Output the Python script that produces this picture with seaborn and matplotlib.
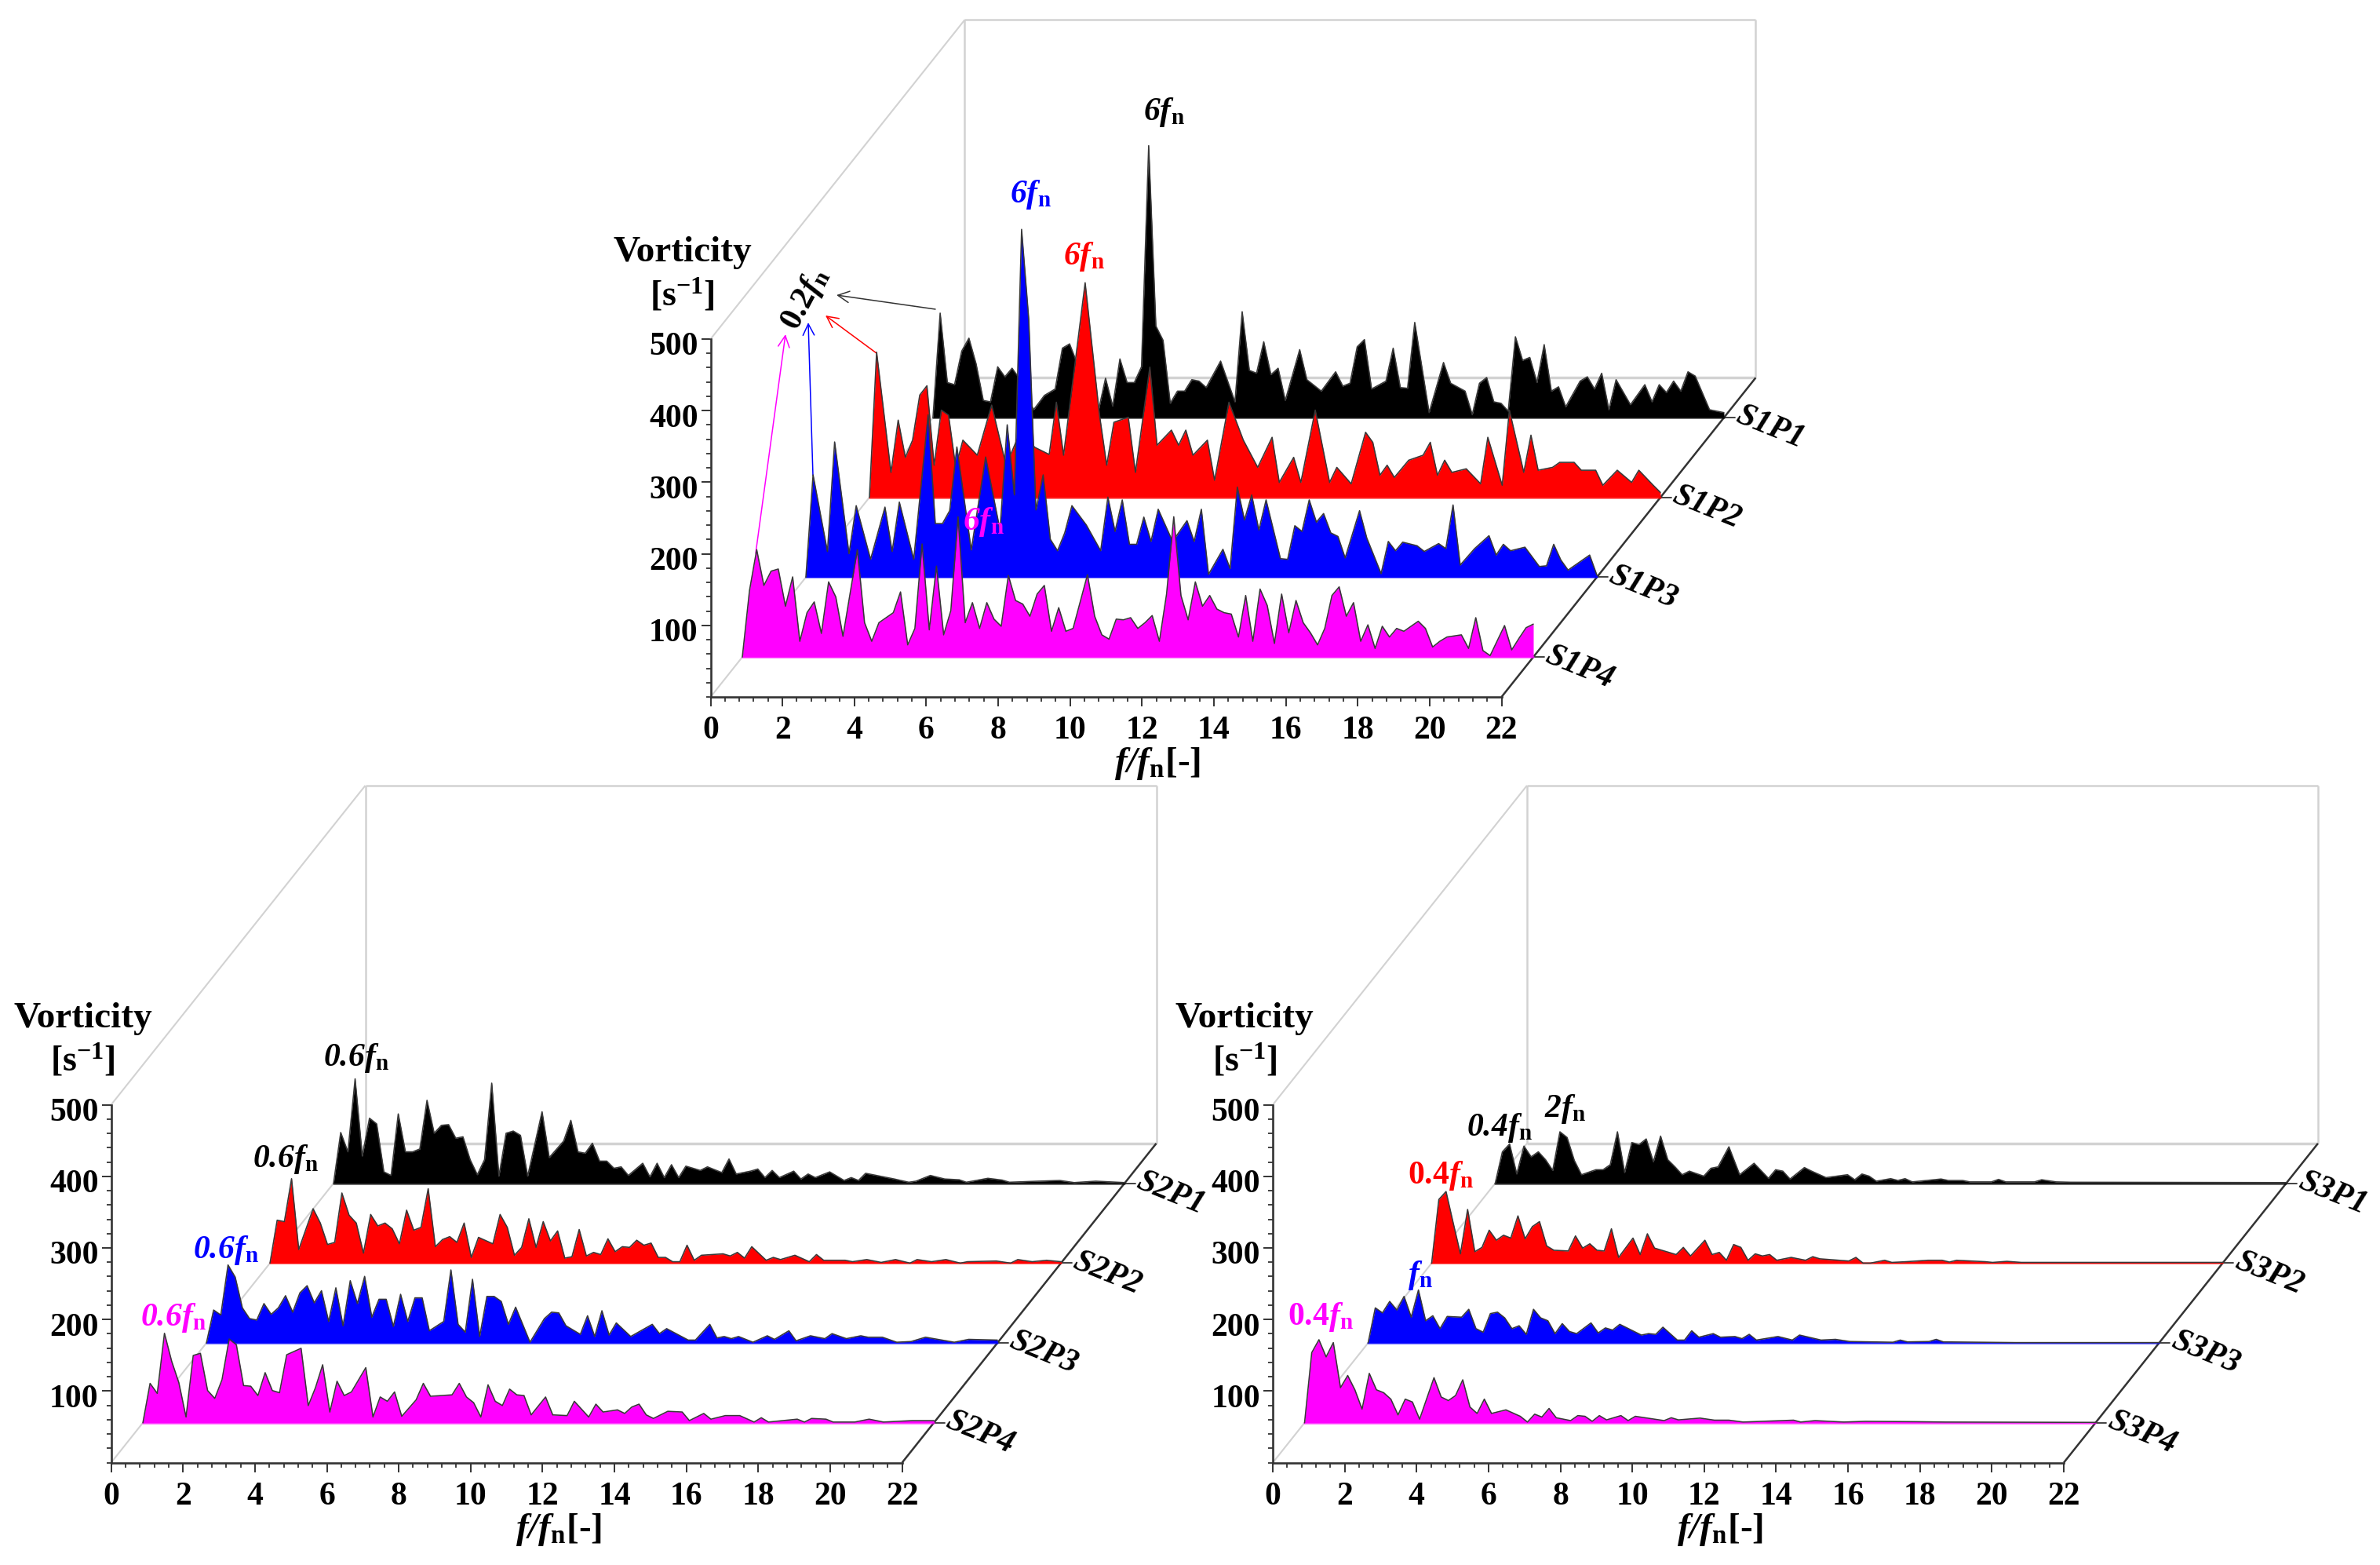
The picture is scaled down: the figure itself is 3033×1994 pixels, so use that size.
import matplotlib
matplotlib.use("Agg")
import matplotlib.pyplot as plt
import seaborn as sns
from matplotlib.transforms import Affine2D, ScaledTranslation
from matplotlib.ticker import MultipleLocator

# ---------- data ----------
S1P1_f = [0,.2,.4,.6,.8,1,1.2,1.4,1.6,1.8,2,2.2,2.4,2.8,3.1,3.4,3.6,3.8,4,4.6,4.8,5,5.2,5.4,5.6,5.8,6,6.2,6.4,6.6,6.8,7,7.2,7.4,7.6,8,8.4,8.6,8.8,9,9.2,9.4,9.6,9.8,10.2,10.4,10.8,11.2,11.4,11.6,11.8,12,12.2,12.6,12.8,13,13.2,13.4,13.8,14.2,14.4,14.8,15,15.2,15.4,15.6,15.8,16,16.2,16.4,16.6,16.8,17,17.2,17.4,17.6,18,18.2,18.4,18.6,18.8,19,19.4,19.8,20,20.2,20.4,20.6,20.8,21,21.2,21.6,21.8,22]
S1P1_v = [0,146,49,46,93,111,75,24,22,71,57,69,55,11,31,40,97,103,77,9,55,16,82,49,49,71,380,128,108,20,37,37,53,51,42,79,22,148,66,62,106,60,69,24,95,53,37,64,44,48,99,109,40,51,97,42,41,133,7,77,48,37,4,48,56,22,20,9,113,80,84,49,102,37,43,15,51,57,40,62,11,53,18,46,22,46,35,51,37,64,58,11,9,7]
S1P2_f = [0,.2,.6,.8,1,1.2,1.4,1.6,1.8,2,2.2,2.4,2.6,3,3.4,3.8,4.2,4.6,5,5.2,5.4,6,6.4,6.6,6.8,7.2,7.4,7.8,8,8.4,8.6,8.8,9,9.4,9.6,10,10.4,10.8,11.2,11.4,11.8,12,12.4,12.8,13,13.4,13.8,14,14.2,14.4,14.6,15,15.4,15.6,15.8,16,16.2,16.6,17,17.2,17.6,17.8,18.2,18.4,18.6,19,19.2,19.6,19.8,20.2,20.4,20.8,21.2,21.4,21.8,22]
S1P2_v = [0,203,35,108,56,80,143,156,45,122,115,42,80,59,129,45,92,70,60,133,59,300,115,45,105,112,35,182,73,94,73,94,59,80,24,133,80,42,84,21,56,21,122,21,42,19,91,77,31,45,28,52,59,77,31,52,35,40,19,84,17,122,35,87,38,42,49,49,38,38,17,38,21,38,17,7]
S1P3_f = [0,.2,.6,.8,1.2,1.4,1.8,2.2,2.4,2.6,3,3.4,3.6,3.8,4,4.2,4.6,5,5.4,5.6,5.8,6,6.2,6.4,6.6,6.8,7,7.2,7.4,7.8,8.2,8.4,8.6,8.8,9,9.2,9.4,9.6,9.8,10.2,10.6,10.8,11,11.2,11.6,11.8,12,12.2,12.4,12.6,12.8,13.2,13.4,13.6,13.8,14,14.2,14.4,14.6,14.8,15,15.4,15.6,16,16.2,16.4,16.6,17,17.2,17.6,17.8,18,18.2,18.6,19,19.2,19.4,19.6,20,20.4,20.6,20.8,21,21.2,21.8,22]
S1P3_v = [0,143,36,189,33,100,25,98,36,105,25,227,75,75,93,182,38,168,66,213,115,486,360,94,143,53,37,62,100,73,37,112,64,108,46,46,84,50,95,50,79,50,95,4,39,12,126,80,115,66,108,26,25,72,64,108,77,89,62,57,27,93,55,5,50,37,49,44,36,47,40,101,17,40,58,31,46,37,42,15,16,46,24,10,31,3]
S1P4_f = [0,.2,.4,.6,.8,1,1.2,1.4,1.6,1.8,2,2.2,2.4,2.6,2.8,3.2,3.4,3.6,3.8,4.2,4.4,4.6,4.8,5,5.2,5.4,5.6,5.8,6,6.2,6.4,6.6,6.8,7,7.2,7.4,7.6,7.8,8,8.2,8.4,8.6,8.8,9,9.2,9.6,9.8,10,10.2,10.4,10.6,10.8,11,11.2,11.4,11.6,11.8,12,12.2,12.4,12.6,12.8,13,13.2,13.4,13.6,13.8,14,14.2,14.4,14.6,14.8,15,15.2,15.4,15.6,15.8,16,16.2,16.4,16.6,16.8,17,17.2,17.4,17.6,17.8,18,18.2,18.4,18.8,19,19.2,19.4,19.6,20,20.2,20.4,20.6,20.8,21.2,21.4,21.6,21.8,22]
S1P4_v = [0,93,150,100,120,123,71,112,22,62,77,33,105,84,29,150,48,22,48,62,91,17,40,158,38,127,31,65,196,48,76,40,76,53,43,114,79,74,57,88,100,36,69,36,40,115,57,31,25,53,52,55,40,48,58,22,88,196,86,52,105,71,86,67,62,60,28,86,22,95,72,19,88,34,79,48,34,17,40,86,98,57,76,22,45,12,43,28,40,36,50,40,14,22,28,31,12,55,9,2,44,10,26,41,46]

S2P1_f = [0,.2,.4,.6,.8,1,1.2,1.4,1.6,1.8,2,2.2,2.4,2.6,2.8,3,3.2,3.4,3.6,3.8,4,4.2,4.4,4.6,4.8,5,5.2,5.4,5.8,6,6.4,6.6,6.8,7,7.2,7.4,7.6,7.8,8,8.2,8.6,8.8,9,9.2,9.4,9.6,9.8,10.2,10.4,10.8,11,11.2,11.6,11.8,12,12.2,12.4,12.8,13,13.2,13.4,13.8,14.2,14.4,14.6,14.8,15.6,16,16.2,16.6,17,17.4,17.6,18.2,18.6,18.8,19.6,20.2,20.6,21.2,22]
S2P1_v = [0,71,44,146,38,91,83,16,11,97,44,44,48,116,70,81,82,63,65,33,12,33,140,10,70,73,67,10,100,36,59,88,44,42,56,31,31,21,23,11,28,9,28,8,26,8,24,18,23,15,34,13,17,20,8,18,8,17,6,13,8,16,4,8,4,14,6,1.5,3,11,6,5,1.5,7,4.5,1.5,3,4,1,3,1]
S2P2_f = [0,.2,.4,.6,.8,1.2,1.4,1.6,1.8,2,2.2,2.4,2.6,2.8,3,3.2,3.4,3.6,3.8,4,4.2,4.4,4.6,4.8,5,5.2,5.4,5.6,5.8,6.2,6.4,6.6,6.8,7,7.2,7.4,7.6,7.8,8,8.2,8.4,8.6,8.8,9,9.2,9.4,9.6,9.8,10,10.2,10.4,10.6,10.8,11,11.2,11.4,11.6,11.8,12,12.6,12.8,13,13.2,13.4,13.8,14,14.2,14.6,15,15.2,15.4,16,16.2,16.6,17,17.4,17.8,18,18.4,18.8,19.2,19.4,20.2,20.6,20.8,21.2,21.6,22]
S2P2_v = [0,60,58,118,19,76,56,26,29,98,67,56,14,68,52,56,48,27,74,46,50,104,23,33,37,29,56,8,36,27,68,50,11,22,62,22,58,31,45,7,9,47,10,15,12,34,16,23,22,32,25,28,8,8,2,2,25,4,11,13,10,15,7,23,4,8,5,11,2,12,4,4,2,5,1,5,0,5,2,5,0,2,3,0,5,2,4,2]
S2P3_f = [0,.2,.4,.6,.8,1,1.2,1.4,1.6,1.8,2,2.2,2.4,2.6,2.8,3,3.2,3.4,3.6,3.8,4,4.2,4.4,4.6,4.8,5,5.2,5.4,5.6,5.8,6,6.2,6.6,6.8,7,7.2,7.4,7.6,7.8,8,8.2,8.4,8.6,9,9.4,9.6,9.8,10,10.4,10.6,10.8,11,11.2,11.4,11.8,12.4,12.6,12.8,13.4,13.6,14,14.2,14.4,14.6,14.8,15.2,15.6,15.8,16.2,16.4,16.8,17.2,17.4,17.8,18.2,18.4,18.8,19.2,19.6,20,20.8,21.2,22]
S2P3_v = [0,46,39,109,92,49,34,32,55,40,49,66,43,70,80,56,73,30,77,24,87,55,93,36,61,61,23,68,30,63,63,17,30,102,26,15,89,9,65,65,58,26,50,1,34,43,42,24,12,38,9,45,11,28,9,26,13,20,4,4,26,7,9,6,9,1,10,5,17,3,10,6,13,6,10,8,8,1,2,8,1,5,4]
S2P4_f = [0,.2,.4,.6,.8,1,1.2,1.4,1.6,1.8,2,2.2,2.4,2.6,2.8,3,3.2,3.4,3.6,3.8,4,4.4,4.6,4.8,5,5.2,5.4,5.6,5.8,6.2,6.4,6.6,6.8,7,7.2,7.6,7.8,8,8.6,8.8,9,9.2,9.4,9.6,9.8,10,10.2,10.4,10.6,10.8,11.2,11.4,11.8,12,12.4,12.6,12.8,13.2,13.4,13.6,13.8,14,14.2,14.6,15,15.2,15.6,15.8,16.2,16.6,17,17.2,17.4,18.2,18.4,18.6,19,19.2,19.8,20.2,20.6,21.4,22]
S2P4_v = [0,55,41,125,86,56,8,94,97,45,34,60,117,109,52,51,38,70,45,42,95,104,24,49,81,15,58,38,43,77,8,36,30,43,9,32,55,37,39,55,36,28,8,53,30,24,47,39,38,11,36,11,10,30,8,26,15,18,13,22,26,11,6,16,15,3,13,5,10,10,1,7,1,5,1,6,5,1,1,5,1,3,3]

S3P1_f = [0,.2,.4,.6,.8,1,1.2,1.4,1.6,1.8,2,2.2,2.4,2.8,3,3.2,3.4,3.6,3.8,4,4.2,4.4,4.6,4.8,5,5.2,5.4,5.8,6,6.2,6.5,6.8,7.2,7.6,7.8,8,8.2,8.6,8.8,9.2,9.8,10,10.2,10.4,10.6,11,11.2,11.4,11.6,12.4,12.6,13,13.2,13.8,14,14.2,15,15.2,15.6,16,22]
S3P1_v = [0,44,55,13,52,37,44,33,18,72,64,32,12,19,19,26,72,15,57,54,62,30,66,33,23,12,17,10,21,23,51,12,28,7,19,17,6,22,17,8,12,5,13,10,3,6.5,4,6.5,2,6,4,4,2,2,5.5,2,2,5,2,1.5,1]
S3P2_f = [0,.2,.4,.6,.8,1,1.2,1.4,1.6,1.8,2,2.2,2.4,2.6,2.8,3,3.2,3.4,3.8,4,4.2,4.4,4.6,4.8,5,5.2,5.6,5.8,6,6.2,6.6,6.8,7,7.2,7.6,7.8,8,8.2,8.4,8.6,8.8,9,9.2,9.4,9.6,10,10.4,10.6,10.8,11.6,11.8,12,12.2,12.6,12.8,13.2,13.8,14.2,14.4,14.6,15.4,15.6,16,16.4,22]
S3P2_v = [0,89,100,56,13,75,16,22,46,32,39,35,66,34,51,58,24,18,17,38,21,27,18,17,48,8,35,12,41,21,15,12,22,10,32,12,15,4,26,22,4,13,10,12,4,8,4,9,6,3,8,0,0,4,1,2,4,4,1.5,4,2,1,2.5,1,1]
S3P3_f = [0,.2,.4,.6,.8,1,1.2,1.4,1.6,1.8,2,2.2,2.6,2.8,3,3.2,3.4,3.6,3.8,4,4.2,4.4,4.6,4.8,5,5.2,5.4,5.6,5.8,6.2,6.4,6.6,6.8,7,7.6,7.8,8,8.2,8.6,8.8,9,9.2,9.6,9.8,10.2,10.4,10.6,10.8,11.4,11.8,12,12.6,13,13.4,14,14.6,14.8,15,15.6,15.8,16,17,18,22]
S3P3_v = [0,49,42,58,46,65,36,74,31,38,20,37,36,47,20,15,41,43,35,20,24,12,47,35,31,13,27,16,13,28,14,21,18,26,11,13,12,22,4,4,17,8,13,8,9,6,12,4,9,4,11,4,5,2,1.5,1,4,1.5,2,5,1.5,1,.5,.5]
S3P4_f = [0,.2,.4,.6,.8,1,1.2,1.4,1.6,1.8,2,2.2,2.4,2.6,2.8,3,3.2,3.6,3.8,4,4.2,4.4,4.6,4.8,5,5.2,5.6,6,6.2,6.4,6.6,6.8,7,7.4,7.6,7.8,8,8.2,8.4,8.8,9,9.2,10,10.2,10.4,11,11.4,11.8,12.2,13.6,13.8,14.2,15,15.6,17,17.8,22]
S3P4_v = [0,98,116,92,112,49,66,46,19,69,46,42,33,11,33,29,5,63,36,31,38,60,22,13,33,13,18,9,1,12,8,20,7,3,10,9,2,10,4,10,3,9,3,7,4,6.5,3.6,3.6,1,3.6,1,3,1,2,1.5,1,.5]

TICKS_Y = [100, 200, 300, 400, 500]
TICKS_X = list(range(0, 23, 2))
DEPTHS = [.875, .625, .375, .125]
COLORS = ["black", "red", "blue", "magenta"]
NAMES = [["S1P1","S1P2","S1P3","S1P4"], ["S2P1","S2P2","S2P3","S2P4"], ["S3P1","S3P2","S3P3","S3P4"]]
SERIES = [
    [(S1P1_f,S1P1_v),(S1P2_f,S1P2_v),(S1P3_f,S1P3_v),(S1P4_f,S1P4_v)],
    [(S2P1_f,S2P1_v),(S2P2_f,S2P2_v),(S2P3_f,S2P3_v),(S2P4_f,S2P4_v)],
    [(S3P1_f,S3P1_v),(S3P2_f,S3P2_v),(S3P3_f,S3P3_v),(S3P4_f,S3P4_v)],
]
# Peak labels: text, centre px (x, y from top), colour, rotation
LABELS = [
    ("$\\mathcal{6f}_{\\mathrm{n}}$",1483,143,"black",0),
    ("$\\mathcal{6f}_{\\mathrm{n}}$",1313,248,"blue",0),
    ("$\\mathcal{6f}_{\\mathrm{n}}$",1381,327,"red",0),
    ("$\\mathcal{6f}_{\\mathrm{n}}$",1253,665,"magenta",0),
    ("$0.2\\mathcal{f}_{\\mathrm{n}}$",1026,381,"black",62),
    ("$\\mathcal{0.6f}_{\\mathrm{n}}$",454,1348,"black",0),
    ("$\\mathcal{0.6f}_{\\mathrm{n}}$",364,1477,"black",0),
    ("$\\mathcal{0.6f}_{\\mathrm{n}}$",288,1593,"blue",0),
    ("$\\mathcal{0.6f}_{\\mathrm{n}}$",221,1679,"magenta",0),
    ("$\\mathcal{0.4f}_{\\mathrm{n}}$",1911,1437,"black",0),
    ("$\\mathcal{2f}_{\\mathrm{n}}$",1995,1413,"black",0),
    ("$0.4\\mathcal{f}_{\\mathrm{n}}$",1836,1498,"red",0),
    ("$\\mathcal{f}_{\\mathrm{n}}$",1810,1625,"blue",0),
    ("$0.4\\mathcal{f}_{\\mathrm{n}}$",1683,1678,"magenta",0),
]
ARROWS = [
    (1192,394,1066,376,"#333333"),
    (1117,450,1052,402,"red"),
    (1036,606,1030,411,"blue"),
    (963,705,1001,426,"magenta"),
]
PANELS = [(905.5, 888), (141.6, 1863.6), (1622, 1863.6)]

W, H = 3033, 1994
AX_W, AX_H = 1008, 456
DX, DY = 7.07, 446          # depth vector in data units

sns.set_theme(style="ticks")
plt.rcParams["font.family"] = ["Liberation Serif", "DejaVu Serif"]
plt.rcParams["font.weight"] = "bold"
plt.rcParams["text.color"] = "black"
plt.rcParams["mathtext.fontset"] = "custom"
plt.rcParams["mathtext.rm"] = "Liberation Serif:bold"
plt.rcParams["mathtext.it"] = "Liberation Serif:italic:bold"
plt.rcParams["mathtext.cal"] = "Liberation Serif:italic:bold"
plt.rcParams["mathtext.bf"] = "Liberation Serif:bold"
plt.rcParams["axes.unicode_minus"] = False

fig = plt.figure(figsize=(W/100, H/100), dpi=100, facecolor="white")
GRAY = "#d2d2d2"
DARK = "#333333"

for p, (x0, yb) in enumerate(PANELS):
    ax = fig.add_axes([x0/W, 1-yb/H, AX_W/W, AX_H/H])
    ax.patch.set_visible(False)
    # box frame
    for x, y, c, lw in [
        ([0, DX], [500, 500+DY], GRAY, 1.5),
        ([0, DX], [0, DY], GRAY, 1.5),
        ([DX, DX], [DY, 500+DY], GRAY, 1.8),
        ([DX, 22+DX], [500+DY, 500+DY], GRAY, 1.8),
        ([22+DX, 22+DX], [DY, 500+DY], GRAY, 1.8),
        ([DX, 22+DX], [DY, DY], GRAY, 2.5),
        ([22, 22+DX], [0, DY], DARK, 1.8),
    ]:
        ax.plot(x, y, color=c, lw=lw, clip_on=False, zorder=1, solid_capstyle="butt")

    for i, (f, v) in enumerate(SERIES[p]):
        d = DEPTHS[i]
        tr = Affine2D().translate(DX*d, DY*d) + ax.transData
        ax.fill_between(f, 0, v, color=COLORS[i], lw=0, clip_on=False, transform=tr, zorder=2+i)
        ax.plot([0, 22], [0, 0], color=COLORS[i], lw=1.8, alpha=.7, clip_on=False, transform=tr, zorder=2.4+i)
        sns.lineplot(x=f, y=v, ax=ax, color="#383838", lw=1.15, estimator=None, sort=False,
                     clip_on=False, transform=tr, zorder=2.5+i)
        # tick on the depth edge and series name
        ax.plot([22, 22.3], [0, 0], color=DARK, lw=1.3, clip_on=False, transform=tr, zorder=2)
        ax.annotate(NAMES[p][i], xy=(22, 0), xycoords=tr, xytext=(59, -13), textcoords="offset pixels",
                    ha="center", va="center", rotation=-22, fontsize=30, style="italic",
                    fontweight="bold", color="black", annotation_clip=False)

    ax.set_xlim(0, 22)
    ax.set_ylim(0, 500)
    ax.set_xlabel("")
    ax.set_ylabel("")
    ax.set_xticks(TICKS_X)
    ax.set_yticks(TICKS_Y)
    ax.xaxis.set_minor_locator(MultipleLocator(0.4))
    ax.yaxis.set_minor_locator(MultipleLocator(20))
    for s in ["top", "right"]:
        ax.spines[s].set_visible(False)
    for s in ["left", "bottom"]:
        ax.spines[s].set_linewidth(1.9)
        ax.spines[s].set_color(DARK)
        ax.spines[s].set_zorder(20)
    ax.tick_params(axis="both", which="major", length=8.5, width=1.4, color=DARK, labelcolor="black")
    ax.tick_params(axis="both", which="minor", length=4.2, width=1.3, color=DARK)
    ax.tick_params(axis="x", which="major", pad=9, labelsize=30)
    ax.tick_params(axis="y", which="major", pad=3, labelsize=30)
    for lab in ax.get_yticklabels():
        lab.set_fontweight("bold")
        lab.set_transform(lab.get_transform() + ScaledTranslation(0, -6/100, fig.dpi_scale_trans))
    for lab in ax.get_xticklabels():
        lab.set_fontweight("bold")

    ax.annotate("Vorticity", xy=(0, 500), xycoords="data", xytext=(-36, 110), textcoords="offset pixels",
                ha="center", va="center", fontsize=34, fontweight="bold", color="black", annotation_clip=False)
    ax.annotate("[s$^{-1}$]", xy=(0, 500), xycoords="data", xytext=(-36, 56), textcoords="offset pixels",
                ha="center", va="center", fontsize=33, fontweight="bold", color="black", annotation_clip=False)
    ax.annotate("$\\mathcal{f/f}_{\\mathrm{n}}$[-]", xy=(11, 0), xycoords="data", xytext=(66, -85),
                textcoords="offset pixels", ha="center", va="center", fontsize=34, fontweight="bold",
                color="black", annotation_clip=False)

for txt, x, y, c, rot in LABELS:
    fig.text(x/W, 1-y/H, txt, color=c, fontsize=30, ha="center", va="center", rotation=rot, fontweight="bold")

for x1, y1, x2, y2, c in ARROWS:
    fig.axes[0].annotate("", xy=(x2, H-y2), xycoords="figure pixels", xytext=(x1, H-y1),
                         textcoords="figure pixels", annotation_clip=False,
                         arrowprops=dict(arrowstyle="->", color=c, lw=1.1, mutation_scale=26, shrinkA=0, shrinkB=0))

fig.savefig("out.png", dpi=100, facecolor="white")
